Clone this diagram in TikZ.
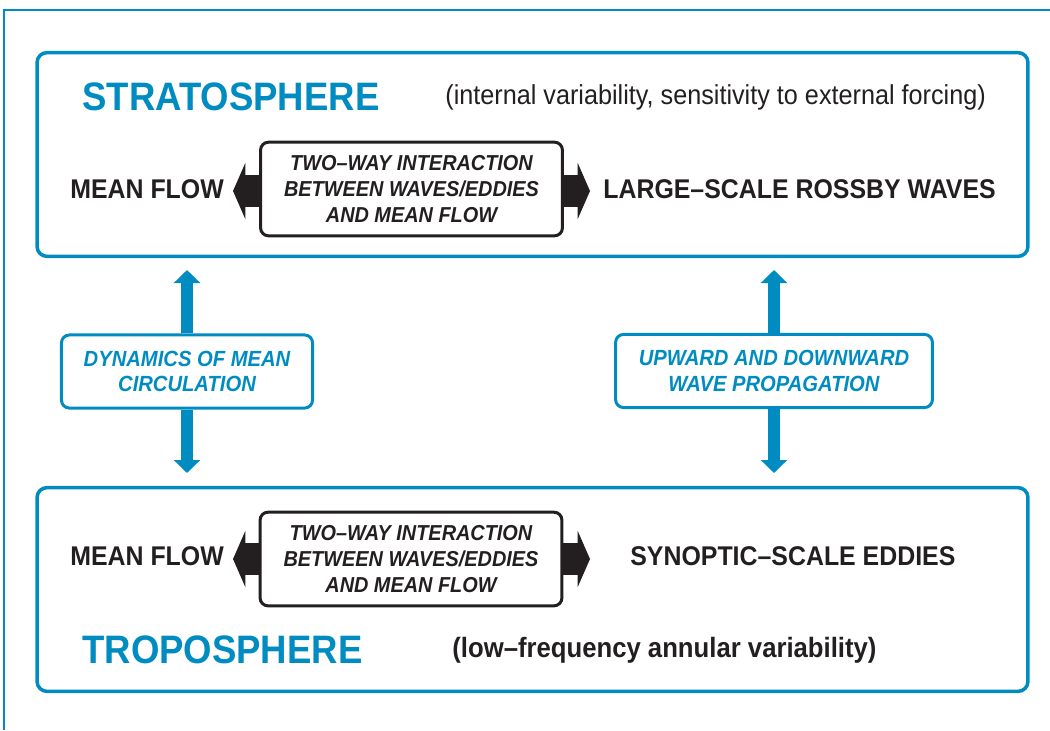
\documentclass[tikz,border=0pt]{standalone}
\usepackage{fontspec}
\setmainfont{Liberation Sans}[FakeStretch=0.92]
\usetikzlibrary{arrows.meta}
\definecolor{strblue}{RGB}{0,140,193}
\definecolor{ink}{RGB}{35,31,32}
\tikzset{
  layerbox/.style={draw=strblue,line width=2pt,rounded corners=5.7pt,
    minimum width=564pt,minimum height=116pt,inner sep=0pt},
  twowaybox/.style={draw=ink,line width=1.7pt,rounded corners=4.5pt,
    minimum width=171.8pt,minimum height=53.3pt,inner sep=0pt,align=center,
    text=ink,font=\bfseries\itshape\fontsize{12.3}{14.7}\selectfont},
  linkbox/.style={draw=strblue,line width=1.7pt,rounded corners=4.5pt,
    minimum height=41.6pt,inner sep=0pt,align=center,
    text=strblue,font=\bfseries\itshape\fontsize{12.5}{14.7}\selectfont},
  layername/.style={anchor=west,inner sep=0pt,text=strblue,
    font=\bfseries\fontsize{22.6}{26}\selectfont},
  item/.style={anchor=west,inner sep=0pt,text=ink,
    font=\bfseries\fontsize{15.4}{18}\selectfont},
  remark/.style={anchor=west,inner sep=0pt,text=ink,
    font=\fontsize{15.6}{18}\selectfont},
  fatarrow/.style={draw=ink,line width=18pt,
    -{Triangle[length=7pt,width=31.7pt]}},
  bluearrow/.style={draw=strblue,line width=7.2pt,
    -{Triangle[length=7.4pt,width=14.7pt]}},
}
\begin{document}
\begin{tikzpicture}[x=0.02cm,y=-0.02cm]
\useasboundingbox (0,0) rectangle (1050,730);
% frame
\draw[strblue,line width=0.6pt] (4,730) -- (4,10) -- (1050,10);

% stratosphere
\node[layerbox] (strat) at (532.5,154.5) {};
\node[layername] (stratname) at (82,97) {STRATOSPHERE};
\node[remark] (stratnote) at (445,97) {(internal variability, sensitivity to external forcing)};
\node[item] (meanS) at (70,189) {MEAN FLOW};
\node[item] (rossby) at (603,189) {LARGE–SCALE ROSSBY WAVES};
\node[twowaybox] (upmid) at (411.5,189) {TWO–WAY INTERACTION\\BETWEEN WAVES/EDDIES\\AND MEAN FLOW};
\coordinate (upL) at (233,191);
\coordinate (upR) at (590,191);
\draw[fatarrow] (upmid.west|-upL) -- (upL);
\draw[fatarrow] (upmid.east|-upR) -- (upR);

% links
\node[linkbox,minimum width=142.9pt] (dyn) at (187,371.5) {DYNAMICS OF MEAN\\CIRCULATION};
\node[linkbox,minimum width=180.3pt] (wave) at (774,371) {UPWARD AND DOWNWARD\\WAVE PROPAGATION};
\coordinate (dynU) at (187,270);
\coordinate (dynD) at (187,473);
\coordinate (waveU) at (774,270);
\coordinate (waveD) at (774,473);
\draw[bluearrow] (dyn.north) -- (dynU);
\draw[bluearrow] (dyn.south) -- (dynD);
\draw[bluearrow] (wave.north) -- (waveU);
\draw[bluearrow] (wave.south) -- (waveD);

% troposphere
\node[layerbox] (trop) at (532.5,589.5) {};
\node[item] (meanT) at (70,556) {MEAN FLOW};
\node[item] (synoptic) at (630,556) {SYNOPTIC–SCALE EDDIES};
\node[twowaybox] (lowmid) at (411,559) {TWO–WAY INTERACTION\\BETWEEN WAVES/EDDIES\\AND MEAN FLOW};
\coordinate (lowL) at (233,559);
\coordinate (lowR) at (590,559);
\draw[fatarrow] (lowmid.west|-lowL) -- (lowL);
\draw[fatarrow] (lowmid.east|-lowR) -- (lowR);
\node[item,font=\bfseries\fontsize{15.9}{18}\selectfont] (tropnote) at (452,650) {(low–frequency annular variability)};
\node[layername] (tropname) at (82,650) {TROPOSPHERE};
\end{tikzpicture}
\end{document}
